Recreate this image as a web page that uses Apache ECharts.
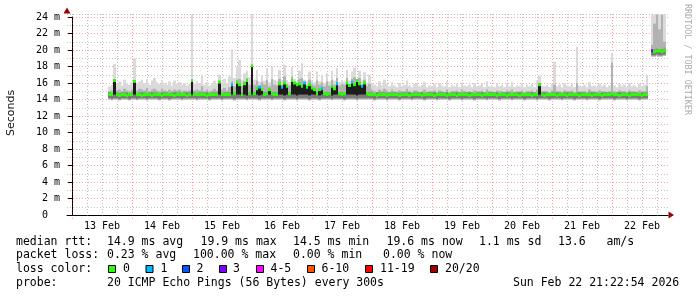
<!DOCTYPE html>
<html><head><meta charset="utf-8">
<script src="https://cdn.jsdelivr.net/npm/echarts@6/dist/echarts.min.js"></script>
<style>html,body{margin:0;padding:0;background:#fff}#c{width:697px;height:297px}</style>
</head><body><div id="c"></div>
<script>
// ---------- DATA ----------
const dayLabels = ['13 Feb','14 Feb','15 Feb','16 Feb','17 Feb','18 Feb','19 Feb','20 Feb','21 Feb','22 Feb'];
const dayLabelHours = [12,36,60,84,108,132,156,180,204,228];
const dayHours = [0,24,48,72,96,120,144,168,192,216];
const minorHours = [6,12,18,30,36,42,54,60,66,78,84,90,102,108,114,126,132,138,150,156,162,174,180,186,198,204,210,222,228,234];
const firstHour = 15; // hourly samples, hours after 13 Feb 00:00

const medianRtt = [
 14.6,14.6,16.3,14.6,14.5,14.6,14.6,14.5,14.6,
 14.6,16.2,14.6,14.6,14.5,14.6,14.6,14.6,14.5,14.6,14.6,14.6,14.5,14.6,14.6,14.6,14.6,14.5,14.6,14.6,14.6,14.6,14.5,14.6,
 16.3,14.6,14.6,14.6,14.6,14.6,14.5,14.6,14.6,14.6,14.6,16.1,14.6,14.6,14.6,14.6,15.8,14.7,16.1,15.8,14.6,15.9,16.3,14.7,
 18.1,14.7,15.3,15.5,15.2,14.6,14.7,15.2,14.7,14.6,14.6,15.9,15.5,16.0,15.6,14.7,16.3,16.0,15.8,15.9,15.6,16.0,15.5,15.8,
 15.4,15.2,14.7,15.2,15.3,14.7,14.6,14.7,15.6,15.3,15.9,14.7,14.6,14.7,16.0,15.7,16.1,15.8,16.3,15.9,15.6,16.0,14.7,14.6,
 14.6,14.6,14.5,14.6,14.6,14.6,14.5,14.6,14.6,14.6,14.6,14.5,14.6,14.6,14.6,14.5,14.6,14.6,14.6,14.6,14.5,14.6,14.6,14.6,
 14.6,14.5,14.6,14.6,14.6,14.6,14.5,14.6,14.6,14.6,14.5,14.6,14.6,14.6,14.6,14.5,14.6,14.6,14.6,14.6,14.5,14.6,14.6,14.6,
 14.6,14.6,14.5,14.6,14.6,14.6,14.5,14.6,14.6,14.6,14.6,14.5,14.6,14.6,14.6,14.6,14.5,14.6,14.6,15.8,14.6,14.5,14.6,14.6,
 14.6,14.6,14.5,14.6,14.6,14.6,14.5,14.6,14.6,14.6,14.6,14.5,14.6,14.6,14.6,14.6,14.5,14.6,14.6,14.6,14.5,14.6,14.6,14.6,
 14.7,14.6,14.6,14.5,14.6,14.6,14.6,14.5,14.6,14.6,14.6,14.6,14.5,14.6,14.6,null,19.9,19.8,19.9,19.9,19.8,19.9
];
const smokeLow = [
 14.0,13.9,14.0,14.0,13.9,14.0,14.0,14.0,13.9,
 14.0,14.0,13.9,14.0,14.0,14.0,13.9,14.0,14.0,14.0,14.0,13.9,14.0,14.0,14.0,13.9,14.0,14.0,14.0,14.0,13.9,14.0,14.0,14.0,
 14.0,14.0,13.9,14.0,14.0,14.0,14.0,13.9,14.0,14.0,14.0,14.0,13.9,14.0,14.0,14.0,14.0,13.9,14.0,14.0,14.0,14.0,13.9,14.0,
 14.0,14.0,14.0,13.9,14.0,14.0,14.0,14.0,13.9,14.0,14.0,14.0,14.0,13.9,14.0,14.0,14.0,14.0,13.9,14.0,14.0,14.0,14.0,13.9,
 14.0,14.0,14.0,13.9,14.0,14.0,14.0,14.0,13.9,14.0,14.0,14.0,14.0,13.9,14.0,14.0,14.0,14.0,13.9,14.0,14.0,14.0,14.0,14.0,
 14.0,13.9,14.0,14.0,14.0,14.0,13.9,14.0,14.0,14.0,14.0,13.9,14.0,14.0,14.0,14.0,13.9,14.0,14.0,14.0,14.0,13.9,14.0,14.0,
 14.0,14.0,13.9,14.0,14.0,14.0,14.0,13.9,14.0,14.0,14.0,14.0,13.9,14.0,14.0,14.0,14.0,13.9,14.0,14.0,14.0,14.0,13.9,14.0,
 14.0,14.0,14.0,13.9,14.0,14.0,14.0,14.0,13.9,14.0,14.0,14.0,14.0,13.9,14.0,14.0,14.0,14.0,13.9,14.0,14.0,14.0,14.0,13.9,
 14.0,14.0,14.0,14.0,13.9,14.0,14.0,14.0,14.0,13.9,14.0,14.0,14.0,14.0,13.9,14.0,14.0,14.0,14.0,13.9,14.0,14.0,14.0,14.0,
 14.0,13.9,14.0,14.0,14.0,14.0,13.9,14.0,14.0,14.0,14.0,13.9,14.0,14.0,14.0,null,19.2,19.2,19.3,19.2,19.2,19.3
];
const smokeMid = [
 15.0,15.1,16.0,15.1,15.2,15.0,15.3,15.1,15.0,
 15.2,16.0,15.1,15.3,15.2,15.1,15.4,15.0,15.2,15.3,15.1,15.0,15.3,15.1,15.0,15.2,15.0,15.2,15.1,15.2,15.0,15.1,15.0,15.1,
 16.0,15.1,15.2,15.1,15.6,15.0,15.2,15.0,15.1,15.3,15.1,15.9,15.2,15.4,15.1,15.5,16.2,15.6,16.4,16.5,15.6,16.2,16.6,15.8,
 17.5,15.8,16.3,15.7,16.1,15.8,16.4,15.6,16.5,15.8,15.7,16.5,15.8,16.8,15.9,15.7,16.8,16.0,15.8,16.5,16.6,15.9,15.7,16.4,
 15.9,15.7,16.3,15.8,16.1,15.6,16.2,15.7,16.4,15.8,16.6,15.7,15.9,15.8,16.6,15.9,16.5,16.7,16.0,16.6,15.8,16.4,15.6,15.9,
 15.2,15.0,14.9,15.2,15.0,15.3,15.1,14.9,15.2,15.0,14.9,15.1,15.0,15.0,15.3,15.0,14.9,15.1,15.1,14.9,15.0,15.2,14.9,15.0,
 15.0,15.1,14.9,15.1,15.0,14.9,15.2,14.9,15.0,15.0,15.1,14.9,15.2,15.0,14.9,15.0,14.9,15.1,15.0,15.0,15.1,14.9,15.2,15.0,
 15.0,14.9,15.1,15.0,15.0,14.9,15.1,15.0,15.2,14.9,15.0,15.0,15.1,14.9,15.0,15.0,15.1,14.9,15.2,16.0,15.0,15.0,15.0,14.9,
 15.1,15.8,15.0,15.0,14.9,15.1,15.0,15.0,15.1,14.9,16.0,15.0,15.0,15.0,14.9,15.2,15.0,15.0,14.9,15.1,15.0,15.0,14.9,15.0,
 18.5,15.0,14.9,15.1,15.0,15.0,14.9,15.1,15.0,15.0,14.9,15.1,15.0,15.0,15.6,null,20.6,23.2,24.3,22.5,24.3,21.0
];
const smokeHigh = [
 15.6,15.8,18.3,15.9,16.2,15.7,16.4,16.0,15.8,
 16.1,19.0,15.9,16.2,16.4,16.0,16.5,15.8,16.3,16.6,16.1,15.9,16.4,16.0,15.8,16.2,15.7,16.3,15.9,16.1,15.8,16.0,15.7,15.9,
 24.3,15.9,16.2,16.0,17.0,15.8,16.1,15.7,16.0,16.3,15.9,17.0,16.1,16.5,16.0,16.8,20.1,16.6,18.0,18.8,16.4,17.2,17.5,16.7,
 24.3,16.4,17.6,16.2,16.9,16.3,17.8,16.1,18.0,16.4,16.2,17.6,16.3,18.2,16.4,16.1,17.9,16.5,16.2,17.5,18.4,16.4,16.2,17.4,
 16.3,16.1,17.4,16.2,17.0,16.0,17.2,16.2,17.5,16.3,17.8,16.1,16.4,16.2,17.6,16.3,17.4,17.9,16.4,17.5,16.3,17.3,16.0,17.0,
 16.0,15.8,15.6,16.2,15.7,16.4,15.9,15.6,16.1,15.7,15.5,16.0,15.6,15.8,16.3,15.7,15.5,15.9,16.0,15.6,15.8,16.1,15.5,15.7,
 15.6,15.9,15.5,16.0,15.7,15.6,16.2,15.5,15.8,15.6,15.9,15.5,16.1,15.7,15.6,15.8,15.5,16.0,15.6,15.7,15.9,15.5,16.2,15.6,
 15.7,15.5,16.0,15.6,15.8,15.5,15.9,15.6,16.1,15.5,15.7,15.6,16.0,15.5,15.8,15.6,15.9,15.5,16.3,16.9,15.7,15.6,15.8,15.5,
 15.9,18.6,15.6,15.8,15.5,16.0,15.7,15.6,15.9,15.5,20.4,15.7,15.6,15.8,15.5,16.1,15.6,15.7,15.5,15.9,15.6,15.8,15.5,15.7,
 19.6,15.7,15.5,15.9,15.6,15.8,15.5,16.0,15.6,15.7,15.5,15.9,15.6,15.8,17.0,null,24.3,24.3,24.3,24.3,24.3,24.3
];
const lossOneHours = [64,75,84,93,100,106,112,116];
const lossThreeHours = [232];

const lossLabels = ['0','1','2','3','4-5','6-10','11-19','20/20'];
const lossColors = ['#26ff00','#00b8ff','#0059ff','#7e00ff','#ff00ff','#ff5500','#ff0000','#a10000'];

const rttTexts = ['median rtt:','14.9 ms avg','19.9 ms max','14.5 ms min','19.6 ms now','1.1 ms sd','13.6','am/s'];
const lossTexts = ['packet loss:','0.23 % avg','100.00 % max','0.00 % min','0.00 % now'];
const probeTexts = ['probe:','20 ICMP Echo Pings (56 Bytes) every 300s','Sun Feb 22 21:22:54 2026'];

// ---------- LAYOUT ----------
const rttX = [16,107,200.5,293,386.5,479,558,606.5];
const lossX = [16,107,193,293,383];
const probeX = [16,107,513];
const boxX = [108,145.5,182,219,256,307,365,430];
const boxTextX = [123,160.5,196.5,233,270.5,321.5,380,445];
const MONO = '"DejaVu Sans Mono", monospace';
const legendFont = '11.5px ' + MONO;

const samples = [];
medianRtt.forEach((m, i) => {
  if (m == null) return;
  const h = firstHour + i;
  let loss = 0;
  if (lossOneHours.indexOf(h) >= 0) loss = 1;
  if (lossThreeHours.indexOf(h) >= 0) loss = 3;
  samples.push([h, smokeLow[i], smokeMid[i], smokeHigh[i], m, loss]);
});

function renderSample(params, api) {
  const h = api.value(0), lo = api.value(1), mid = api.value(2), hi = api.value(3), med = api.value(4), loss = api.value(5);
  const x0 = Math.round(api.coord([h - 0.5, lo])[0]);
  const x1 = Math.round(api.coord([h + 0.5, lo])[0]);
  const w = x1 - x0;
  const Y = v => api.coord([h, v])[1];
  const kids = [
    {type:'rect', shape:{x:x0, y:Y(hi), width:w, height:Y(lo)-Y(hi)}, style:{fill:'#dadada'}},
    {type:'rect', shape:{x:x0, y:Y(mid), width:w, height:Y(lo)-Y(mid)}, style:{fill:'#b2b2b2'}},
    {type:'rect', shape:{x:x0, y:Y(lo+0.85), width:w, height:Y(lo+0.15)-Y(lo+0.85)}, style:{fill:'#7a7a7a'}}
  ];
  if (med - lo > 0.9 && med - lo < 2.5) {
    kids.push({type:'rect', shape:{x:x0, y:Y(med), width:w, height:Y(lo+0.6)-Y(med)}, style:{fill:'#1c1c1c'}});
  } else if (med - lo >= 2.5) {
    kids.push({type:'rect', shape:{x:x0, y:Y(med), width:w, height:Y(lo+0.6)-Y(med)}, style:{fill:'#1c1c1c'}});
  }
  kids.push({type:'rect', shape:{x:x0, y:Y(med)-1.5, width:w, height:3}, style:{fill:lossColors[loss]}});
  return {type:'group', children:kids};
}
function vLine(color, ext) {
  return function (params, api) {
    const p = api.coord([api.value(0), 0]);
    const cs = params.coordSys;
    const x = Math.round(p[0]) + 0.5;
    return {type:'line', shape:{x1:x, y1:cs.y-3, x2:x, y2:cs.y+cs.height+ext},
      style:{stroke:color, lineWidth:1, lineDash:[1,2]}};
  };
}

const graphics = [];
function txt(x, y, s, extra) {
  graphics.push(Object.assign({type:'text', x:x, y:y, silent:true,
    style:{text:s, font:legendFont, fill:'#000', align:'left', verticalAlign:'middle', textAlign:'left', textVerticalAlign:'middle'}}, extra || {}));
}
rttTexts.forEach((s,i)=>txt(rttX[i], 241.7, s));
lossTexts.forEach((s,i)=>txt(lossX[i], 255.3, s));
txt(16, 269.3, 'loss color:');
lossLabels.forEach((s,i)=>{
  graphics.push({type:'rect', silent:true, shape:{x:boxX[i]+0.5, y:265.5, width:7, height:7}, style:{fill:lossColors[i], stroke:'#000', lineWidth:1}});
  txt(boxTextX[i], 269.3, s);
});
probeTexts.forEach((s,i)=>txt(probeX[i], 282.7, s));
graphics.push({type:'text', x:11, y:113, rotation:Math.PI/2, silent:true,
  style:{text:'Seconds', font:'11px "DejaVu Sans", sans-serif', fill:'#111', align:'center', verticalAlign:'middle', textAlign:'center', textVerticalAlign:'middle'}});
graphics.push({type:'text', x:687, y:4, rotation:-Math.PI/2, silent:true,
  style:{text:'RRDTOOL / TOBI OETIKER', font:'8.4px ' + MONO, fill:'#aaaaaa', align:'left', verticalAlign:'middle', textAlign:'left', textVerticalAlign:'middle'}});
graphics.push({type:'polygon', silent:true, shape:{points:[[668.5,211.5],[674,215],[668.5,218.5]]}, style:{fill:'#990000'}});
graphics.push({type:'polygon', silent:true, shape:{points:[[63.5,13.5],[67,7.5],[70.5,13.5]]}, style:{fill:'#990000'}});
graphics.push({type:'line', silent:true, shape:{x1:67, y1:14.5, x2:668, y2:14.5}, style:{stroke:'rgba(128,128,128,0.5)', lineDash:[1,2], lineWidth:1}});

const chart = echarts.init(document.getElementById('c'), null, {renderer:'canvas'});
chart.setOption({
  animation:false,
  backgroundColor:'#ffffff',
  grid:{left:67, right:29, top:17, bottom:82, containLabel:false},
  xAxis:{type:'value', min:-2, max:238.4,
    axisLine:{show:true, onZero:false, lineStyle:{color:'#000', width:1}},
    axisTick:{show:false}, splitLine:{show:false},
    axisLabel:{customValues:dayLabelHours, formatter:v=>dayLabels[dayLabelHours.indexOf(v)] || '',
      fontFamily:MONO, fontSize:10, color:'#000', margin:6}},
  yAxis:{type:'value', min:0, max:24, interval:2,
    axisLine:{show:true, lineStyle:{color:'#000', width:1}},
    axisTick:{show:true, length:4, lineStyle:{color:'#000'}},
    axisLabel:{formatter:v=>v===0?'0  ':v+' m', fontFamily:MONO, fontSize:10, color:'#000', margin:7},
    splitLine:{show:true, lineStyle:{color:'rgba(255,0,0,0.35)', type:[1,2], width:1}},
    minorTick:{show:false, splitNumber:2},
    minorSplitLine:{show:true, lineStyle:{color:'rgba(128,128,128,0.45)', type:[1,2], width:1}}},
  graphic:graphics,
  series:[
    {type:'custom', z:1, clip:false, silent:true, renderItem:vLine('rgba(128,128,128,0.5)', 2), data:minorHours.map(h=>[h,0])},
    {type:'custom', z:1, clip:false, silent:true, renderItem:vLine('rgba(255,0,0,0.4)', 4), data:dayHours.map(h=>[h,0])},
    {type:'custom', z:2, clip:false, silent:true, renderItem:renderSample, data:samples}
  ]
});
</script></body></html>
